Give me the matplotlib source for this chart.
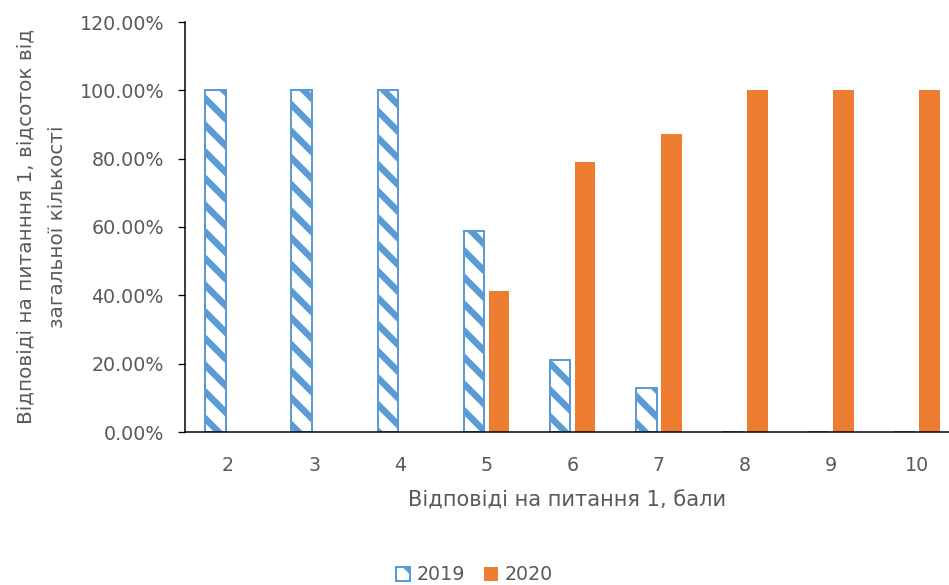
import numpy as np
import matplotlib.pyplot as plt
from matplotlib.ticker import PercentFormatter

categories = ["2", "3", "4", "5", "6", "7", "8", "9", "10"]
share_2019 = [100.0, 100.0, 100.0, 58.82, 21.05, 12.9, 0.0, 0.0, 0.0]
share_2020 = [0.0, 0.0, 0.0, 41.18, 78.95, 87.1, 100.0, 100.0, 100.0]

BLUE = "#5B9BD5"
ORANGE = "#ED7D31"
GREY = "#595959"

# hatch spacing is tied to dpi, so sizes below are given in pixels
DPI = 80
W, H = 949, 585


def px(v):
    return v * 72 / DPI


plt.rcParams["font.family"] = ["DejaVu Sans"]
plt.rcParams["hatch.linewidth"] = px(6.5)
plt.rcParams["hatch.color"] = BLUE

fig = plt.figure(figsize=(W / DPI, H / DPI), dpi=DPI)
ax = fig.add_axes([185 / W, 1 - 432 / H, 1 - 185 / W, 410 / H])

x = np.arange(len(categories))
w = 0.24
off = 0.145

ax.bar(x - off, share_2019, w, facecolor="white", edgecolor=BLUE,
       hatch="\\", linewidth=px(2), label="2019")
ax.bar(x + off, share_2020, w, color=ORANGE, label="2020")

ax.set_xlim(-0.5, 8.37)
ax.set_ylim(0, 120)
ax.set_yticks(np.arange(0, 121, 20))
ax.yaxis.set_major_formatter(PercentFormatter(decimals=2))
ax.set_xticks(x)
ax.set_xticklabels(categories)

ax.tick_params(axis="y", length=px(7), width=px(1.3), colors="black",
               labelcolor=GREY, labelsize=px(19), pad=px(14))
ax.tick_params(axis="x", length=0, labelcolor=GREY, labelsize=px(19), pad=px(24))

for side in ["top", "right"]:
    ax.spines[side].set_visible(False)
for side in ["left", "bottom"]:
    ax.spines[side].set_linewidth(px(1.5))
    ax.spines[side].set_color("black")

ax.set_xlabel("Відповіді на питання 1, бали", fontsize=px(21), color=GREY,
              labelpad=px(16))
ax.set_ylabel("Відповіді на питанння 1, відсоток від\nзагальної кількості",
              fontsize=px(20), color=GREY, labelpad=px(12), linespacing=1.85)

fig.legend(loc="lower center", bbox_to_anchor=(0.5, -0.028), ncol=2, frameon=False,
           fontsize=px(19), labelcolor=GREY, handlelength=0.75, handleheight=0.75,
           handletextpad=0.35, columnspacing=1.0)

fig.savefig("out.png", dpi=DPI)
